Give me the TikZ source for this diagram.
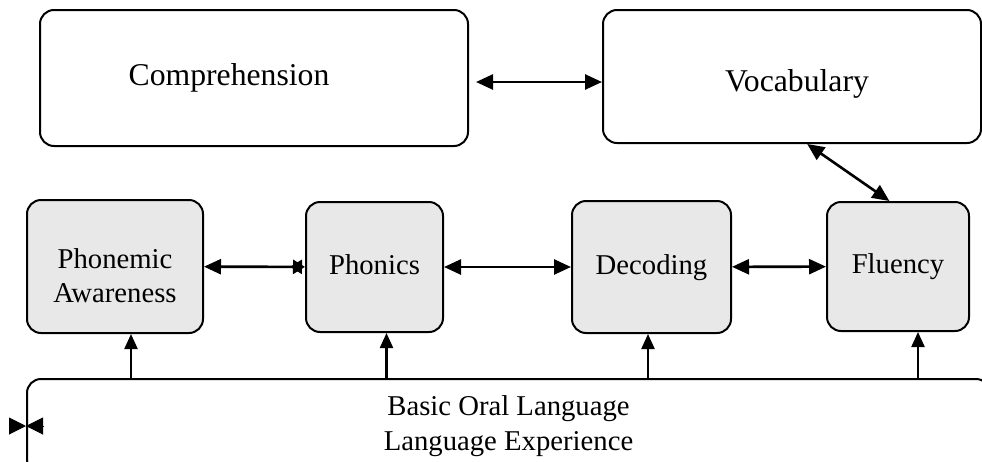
\documentclass[tikz,border=0pt]{standalone}
\usepackage{fontspec}
\setmainfont{Liberation Serif}
\usetikzlibrary{arrows.meta,calc}

\begin{document}
\begin{tikzpicture}[x=1pt, y=-1pt,
  bigbox/.style={draw, line width=2pt, rounded corners=14pt, align=center, font=\fontsize{31.7}{38}\selectfont},
  skill/.style={draw, line width=2pt, rounded corners=14pt, fill=black!9, align=center, font=\fontsize{28.7}{34.4}\selectfont},
  oneline/.style={text height=19.8pt, text depth=5.7pt},
  link/.style={line width=2.6pt, {Triangle[length=17pt,width=15pt]}-{Triangle[length=17pt,width=15pt]}},
  feed/.style={line width=2.2pt, -{Triangle[length=15pt,width=13pt]}}]

  \useasboundingbox (0,0) rectangle (982,461);

  \node[bigbox, minimum width=428pt, minimum height=136pt] (comp) at (254,78) {Comprehension\hspace{50pt}};
  \node[bigbox, minimum width=378pt, minimum height=133pt] (voc) at (792,76.5) {\rule{0pt}{36pt}\hspace{10pt}Vocabulary};

  \node[skill, minimum width=176pt, minimum height=133pt] (pa) at (115,266.5) {\rule{0pt}{38pt}Phonemic\\Awareness};
  \node[skill, oneline, minimum width=137pt, minimum height=130pt] (ph) at (374.5,267) {Phonics};
  \node[skill, oneline, minimum width=159pt, minimum height=132pt] (dec) at (651.5,267) {Decoding};
  \node[skill, oneline, minimum width=142pt, minimum height=129pt] (flu) at (898,266.5) {Fluency};

  \node[draw, line width=2pt, rounded corners=14pt, align=center, font=\fontsize{28.7}{34.4}\selectfont,
        minimum width=963pt, minimum height=94pt] (base) at (508.5,426) {Basic Oral Language\\Language Experience};

  \coordinate (cv) at ([yshift=-4pt]comp.east);
  \draw[link] ([xshift=7pt]cv) -- (cv -| voc.west);
  \draw[link] ($(voc.south west)!0.54!(voc.south east)$) -- ($(flu.north west)!0.44!(flu.north east)$);

  \draw[line width=2.6pt, {Triangle[length=17pt,width=15pt]}-{Triangle[length=12pt,width=14pt,reversed,sep=-9pt]Triangle[length=12pt,width=14pt]}] (pa) -- (ph);
  \draw[link] (ph) -- (dec);
  \draw[link] (dec) -- (flu);

  \path ([xshift=16pt]pa.south) coordinate (pa-in)
        ([xshift=12pt]ph.south) coordinate (ph-in)
        ([xshift=-3.5pt]dec.south) coordinate (dec-in)
        ([xshift=20pt]flu.south) coordinate (flu-in);
  \foreach \k in {pa-in,ph-in,dec-in,flu-in}
    \draw[feed] (\k |- base.north) -- (\k);

  \coordinate (tieL) at (10,426);
  \coordinate (tieR) at (44,426);
  \draw[line width=1pt, -{Triangle[length=17pt,width=17pt]}] (tieL) -- (base.west);
  \draw[line width=1pt, -{Triangle[length=17pt,width=17pt]}] (tieR) -- (base.west);
\end{tikzpicture}
\end{document}
